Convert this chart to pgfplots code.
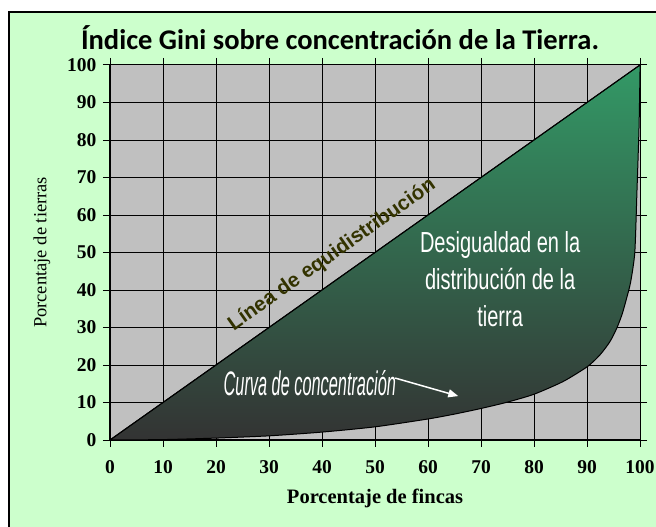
\documentclass[border=0pt]{standalone}
\usepackage{fontspec}
\setmainfont{Liberation Serif}
\newfontfamily\titlefont{Carlito}
\newfontfamily\narrowfont{Liberation Sans}[FakeStretch=0.69]
\newfontfamily\curvafont{Liberation Sans}[FakeStretch=0.48]
\newfontfamily\boldsans{Liberation Sans}
\usepackage{pgfplots}
\pgfplotsset{compat=1.18}
\usetikzlibrary{arrows.meta,backgrounds}
\definecolor{marco}{HTML}{CCFFCC}
\definecolor{fondo}{HTML}{C0C0C0}
\definecolor{verde}{HTML}{339966}
\definecolor{oscuro}{HTML}{333333}
\definecolor{oliva}{HTML}{333300}
\begin{document}
\begin{tikzpicture}
\begin{axis}[
  scale only axis,
  width=530pt, height=375pt,
  xmin=0, xmax=100, ymin=0, ymax=100,
  xtick={0,10,...,100}, ytick={0,10,...,100},
  grid=major,
  grid style={black, line width=0.8pt},
  axis line style={black, line width=1pt},
  axis background/.style={fill=fondo},
  tick align=outside,
  major tick length=7pt,
  tick style={black, line width=0.8pt},
  /pgf/number format/assume math mode=true,
  tick label style={font=\fontsize{19.5}{19.5}\selectfont\bfseries},
  xticklabel style={yshift=-10pt},
  yticklabel style={xshift=-3pt},
  xlabel={\bfseries Porcentaje de fincas},
  xlabel style={font=\fontsize{20.5}{20.5}\selectfont, yshift=-9pt},
  ylabel={Porcentaje de tierras},
  ylabel style={font=\fontsize{18.5}{18.5}\selectfont, yshift=10pt},
]
% curva de concentracion (Lorenz), cerrada por la diagonal
\addplot[draw=black, line width=1pt, top color=verde, bottom color=oscuro, smooth, tension=0.4] coordinates {
  (0,0) (10,0.1) (20,0.5) (30,1.1) (40,2.1) (50,3.5) (60,5.6) (65,6.9) (70,8.4)
  (75,10.1) (80,12.2) (85.5,15.6) (90.1,19.6) (92.5,22.8) (94.3,26.2) (95.6,29.8)
  (96.6,33.5) (97.4,37.5) (98.2,42) (99.0,50) (99.4,66) (99.8,83.5) (100,100)} -- cycle;
\addplot[black, line width=1pt] coordinates {(0,0) (100,100)};
\node[rotate=35.3, text=oliva, font=\boldsans\fontsize{20.5}{20.5}\selectfont\bfseries]
  at (axis cs:41.9,49.3) {Línea de equidistribución};
\node[align=center, text=white, font=\narrowfont\fontsize{29}{37}\selectfont]
  at (axis cs:73.6,42.9) {Desigualdad en la\\distribución de la\\tierra};
\node[text=white, font=\curvafont\itshape\fontsize{34}{34}\selectfont]
  at (axis cs:37.7,15.2) {Curva de concentración};
\draw[white, line width=1.5pt, -{Triangle[length=10pt,width=8pt]}]
  (axis cs:53.8,16.5) -- (axis cs:65.7,11.7);
\coordinate (BL) at (axis cs:-20.75,-23.2);
\coordinate (TR) at (axis cs:103.0,117.3);
\coordinate (FL) at (axis cs:-19.06,114.1);
\coordinate (FR) at (axis cs:110,-30);
\coordinate (T) at (axis cs:43.4,107.2);
\end{axis}
\node[font=\titlefont\bfseries\fontsize{28.5}{28.5}\selectfont] at (T) {Índice Gini sobre concentración de la Tierra.};
\begin{scope}[on background layer]
\filldraw[fill=marco, draw=black, line width=1.2pt] (FL) rectangle (FR);
\end{scope}
\pgfresetboundingbox
\useasboundingbox (BL) rectangle (TR);
\end{tikzpicture}
\end{document}
